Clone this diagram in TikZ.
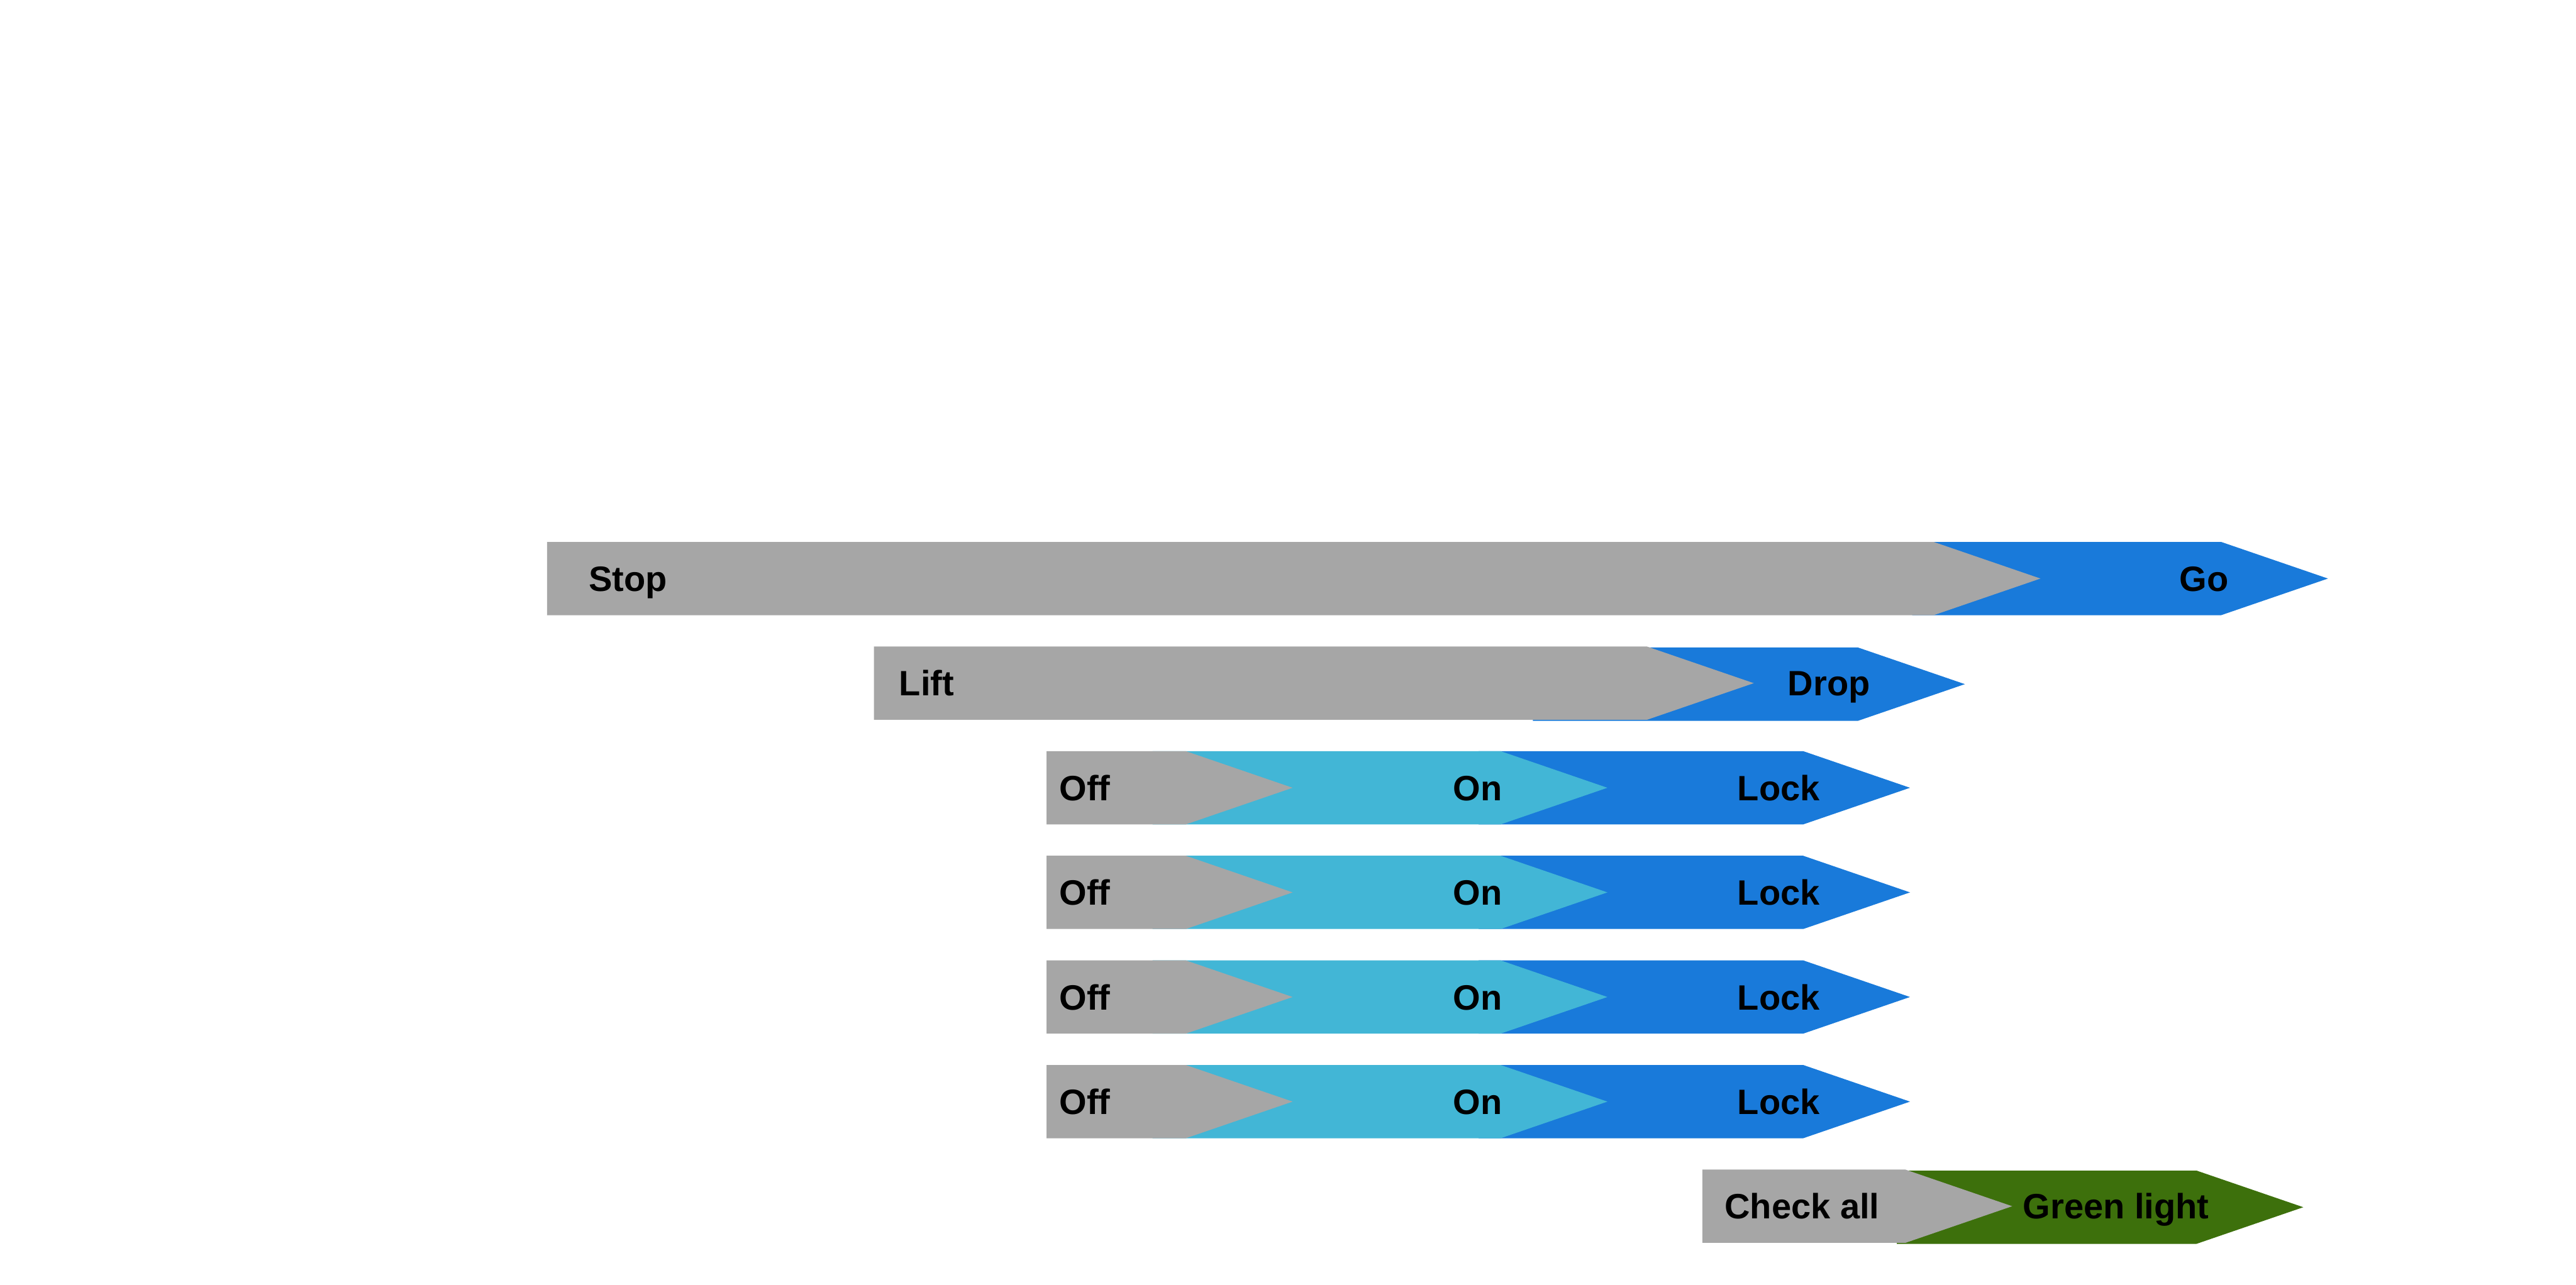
\documentclass[tikz,border=0pt]{standalone}
\usepackage{fontspec}
\setmainfont{Liberation Sans}
\usepackage{tikz}
\usetikzlibrary{positioning}
\definecolor{stagegray}{RGB}{166,166,166}
\definecolor{stageblue}{RGB}{25,122,218}
\definecolor{stagecyan}{RGB}{66,182,214}
\definecolor{stagegreen}{RGB}{61,112,12}
\tikzset{
  graystage/.style={fill=stagegray},
  bluestage/.style={fill=stageblue},
  cyanstage/.style={fill=stagecyan},
  greenstage/.style={fill=stagegreen},
  lab/.style={font=\bfseries\fontsize{12.2}{14}\selectfont,
    text=black,inner sep=0pt}
}
% chevron: style, left x, x where the point starts, top y
\newcommand{\chevseg}[4]{%
  \fill[#1] (#2,#4) -- (#3,#4) -- ({#3+65},{#4+22.3})
    -- (#3,{#4+44.6}) -- (#2,{#4+44.6}) -- cycle;}

\begin{document}
\begin{tikzpicture}[x=0.2mm,y=-0.2mm]
  \useasboundingbox[fill=white] (0,0) rectangle (1568,782.2);
  % row 1
  \chevseg{bluestage}{1164}{1352}{330}
  \chevseg{graystage}{333}{1177}{330}
  \node[lab,anchor=base west] (stop) at (358,359.9) {Stop};
  \node[lab,anchor=base] (go) at (1341.5,359.9) {Go};
  % row 2
  \chevseg{bluestage}{933}{1131}{394.3}
  \chevseg{graystage}{532}{1002.5}{393.7}
  \node[lab,anchor=base west] (lift) at (547,423.6) {Lift};
  \node[lab,anchor=base] (drop) at (1113.3,423.6) {Drop};
  % rows 3 to 6
  \chevseg{bluestage}{900}{1097.6}{457.4}
  \chevseg{cyanstage}{701.5}{913.4}{457.4}
  \chevseg{graystage}{637}{721.8}{457.4}
  \node[lab,anchor=base west] (offa) at (644.5,487.4) {Off};
  \node[lab,anchor=base] (ona) at (899.5,487.4) {On};
  \node[lab,anchor=base] (locka) at (1082.7,487.4) {Lock};
  \chevseg{bluestage}{900}{1097.6}{521.1}
  \chevseg{cyanstage}{701.5}{913.4}{521.1}
  \chevseg{graystage}{637}{721.8}{521.1}
  \node[lab,anchor=base west] (offb) at (644.5,551.1) {Off};
  \node[lab,anchor=base] (onb) at (899.5,551.1) {On};
  \node[lab,anchor=base] (lockb) at (1082.7,551.1) {Lock};
  \chevseg{bluestage}{900}{1097.6}{584.8}
  \chevseg{cyanstage}{701.5}{913.4}{584.8}
  \chevseg{graystage}{637}{721.8}{584.8}
  \node[lab,anchor=base west] (offc) at (644.5,614.8) {Off};
  \node[lab,anchor=base] (onc) at (899.5,614.8) {On};
  \node[lab,anchor=base] (lockc) at (1082.7,614.8) {Lock};
  \chevseg{bluestage}{900}{1097.6}{648.5}
  \chevseg{cyanstage}{701.5}{913.4}{648.5}
  \chevseg{graystage}{637}{721.8}{648.5}
  \node[lab,anchor=base west] (offd) at (644.5,678.5) {Off};
  \node[lab,anchor=base] (ond) at (899.5,678.5) {On};
  \node[lab,anchor=base] (lockd) at (1082.7,678.5) {Lock};
  % row 7
  \chevseg{greenstage}{1154.6}{1337}{712.8}
  \chevseg{graystage}{1036.2}{1159.8}{712.2}
  \node[lab,anchor=base west] (check) at (1049.5,742.2) {Check all};
  \node[lab,anchor=base] (green) at (1288,742.2) {Green light};
\end{tikzpicture}
\end{document}
